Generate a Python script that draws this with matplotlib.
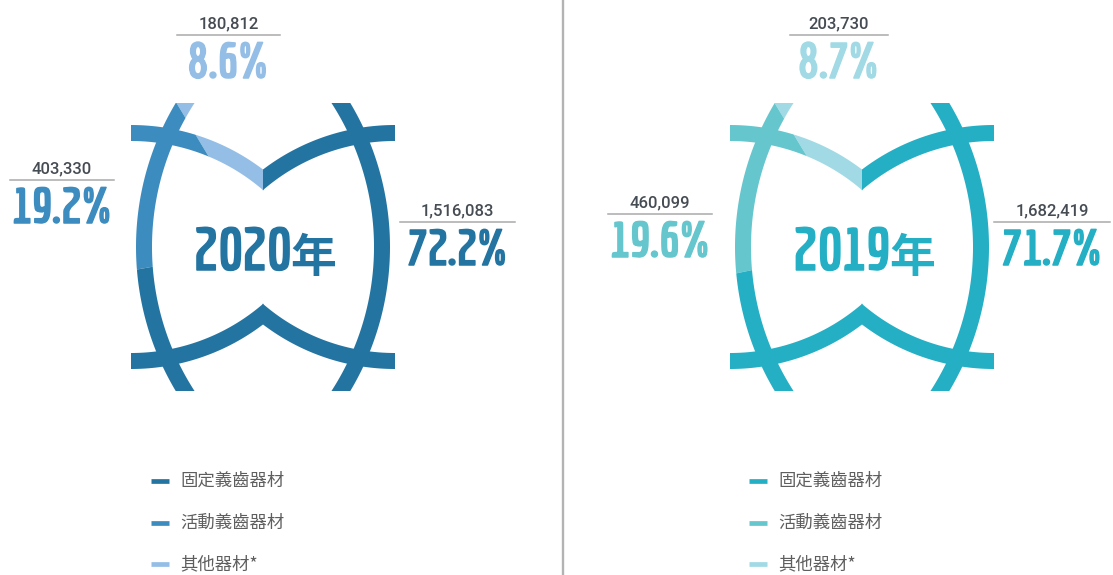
import os
import numpy as np
import matplotlib
matplotlib.use('Agg')
import matplotlib.pyplot as plt
import matplotlib.font_manager as fm
import matplotlib.patheffects as pe
from matplotlib.textpath import TextPath
from matplotlib.patches import Polygon, Wedge

# data
years = ['2020', '2019']
categories = ['固定義齒器材', '活動義齒器材', '其他器材*']
values_2020 = [1516083, 403330, 180812]
values_2019 = [1682419, 460099, 203730]

colors_2020 = ['#2474a2', '#3d8cbf', '#94bee6']
colors_2019 = ['#24afc5', '#66c6cd', '#a1dae5']

W, H = 1113, 575
CJK = 'Noto Sans CJK TC'
PX = 100 / 72  # pixels per point


def size_of(s, prop):
    e = TextPath((0, 0), s, size=100, prop=prop).get_extents()
    return e.width / 100, e.height / 100


# the reference uses a condensed bold face: take the bold file whose proportions
# come closest to it (width of "72.2%" about 2.75x the digit height)
best, best_err = None, None
for f in fm.fontManager.ttflist:
    base = os.path.basename(f.fname).lower()
    if 'bold' not in base or any(t in base for t in ('italic', 'oblique', 'semi', 'extra', 'mono', 'cjk', 'serif')):
        continue
    try:
        prop = fm.FontProperties(fname=f.fname)
        w, _ = size_of('72.2%', prop)
        _, h = size_of('7', prop)
        err = abs(w / h - 2.75)
    except Exception:
        continue
    if best_err is None or err < best_err:
        best, best_err = f.fname, err
NUM = fm.FontProperties(fname=best) if best else fm.FontProperties(family='Roboto', weight='bold')

fig = plt.figure(figsize=(W / 100, H / 100), dpi=100)
ax = fig.add_axes([0, 0, 1, 1])
ax.set_xlim(0, W)
ax.set_ylim(0, H)
ax.axis('off')


def Y(v):
    # picture rows run downwards
    return H - v


def fit(s, cap_px, max_w_px):
    w, _ = size_of(s, NUM)
    _, h = size_of('7', NUM)
    return min(cap_px / (h * PX), max_w_px / (w * PX))


def heavy(c):
    # thicken the condensed digits a little
    return [pe.withStroke(linewidth=1.1, foreground=c)]


def ring_piece(xc, yc, r, t0, t1, w=16, n=240):
    t = np.radians(np.linspace(t0, t1, n))
    outer = np.column_stack([xc + (r + w / 2) * np.cos(t), yc + (r + w / 2) * np.sin(t)])
    t = t[::-1]
    inner = np.column_stack([xc + (r - w / 2) * np.cos(t), yc + (r - w / 2) * np.sin(t)])
    return np.vstack([outer, inner])


def cut(pts, axis, val, keep_greater):
    out = []
    n = len(pts)
    for i in range(n):
        p, q = pts[i], pts[(i + 1) % n]
        pin = p[axis] >= val if keep_greater else p[axis] <= val
        qin = q[axis] >= val if keep_greater else q[axis] <= val
        if pin:
            out.append(p)
        if pin != qin:
            s = (val - p[axis]) / (q[axis] - p[axis])
            out.append(p + s * (q - p))
    return np.array(out)


def shape(cx, cy):
    pieces = [
        (ring_piece(cx + 154, cy, 273, 140, 220), None),
        (ring_piece(cx - 154, cy, 273, -40, 40), None),
        (ring_piece(cx - 132, cy - 96, 210, 40, 100), ('le', cx + 0.4)),
        (ring_piece(cx + 132, cy - 96, 210, 80, 140), ('ge', cx - 0.4)),
        (ring_piece(cx - 132, cy + 96, 210, 260, 320), ('le', cx + 0.4)),
        (ring_piece(cx + 132, cy + 96, 210, 220, 280), ('ge', cx - 0.4)),
    ]
    polys = []
    for pts, half in pieces:
        pts = cut(pts, 0, cx - 132, True)
        pts = cut(pts, 0, cx + 132, False)
        pts = cut(pts, 1, cy - 144, True)
        pts = cut(pts, 1, cy + 144, False)
        if half is not None:
            pts = cut(pts, 0, half[1], half[0] == 'ge')
        polys.append(pts)
    return polys


def panel(cx, cy, year, values, colors, labels):
    total = sum(values)
    shares = [v / total for v in values]
    # wedges start at 12 o'clock, going counter-clockwise: others, removable, fixed
    order = [2, 1, 0]
    start = 90.0
    wedges = {}
    for k in order:
        end = start + 360 * shares[k]
        wedges[k] = Wedge((cx, cy), 420, start, end, transform=ax.transData)
        start = end
    for pts in shape(cx, cy):
        for k in order:
            p = Polygon(pts, closed=True, facecolor=colors[k], edgecolor='none')
            ax.add_patch(p)
            p.set_clip_path(wedges[k])

    # year in the middle: condensed digits + CJK "年"
    ys = fit(year, 42, 98)
    yw = size_of(year, NUM)[0] * ys * PX
    nian_size = 33
    nw = nian_size * PX * 0.92
    gap = 5
    x0 = cx - (yw + gap + nw) / 2
    ax.text(x0, Y(270), year, color=colors[0], fontproperties=NUM, fontsize=ys,
            ha='left', va='baseline', path_effects=heavy(colors[0]))
    ax.text(x0 + yw + gap, Y(272), '年', color=colors[0], family=CJK, fontweight='bold',
            fontsize=nian_size, ha='left', va='baseline')

    for k, (lx, ly, half) in enumerate(labels):
        ax.plot([lx - half, lx + half], [Y(ly), Y(ly)], color='#a9a9a9', lw=1.1)
        ax.text(lx, Y(ly - 7), f'{values[k]:,}', color='#464c53', fontsize=12,
                family='Roboto', fontweight='medium', ha='center', va='baseline')
        s = f'{shares[k] * 100:.1f}%'
        ax.text(lx, Y(ly + 43), s, color=colors[k], fontproperties=NUM,
                fontsize=fit(s, 35, 100), ha='center', va='baseline',
                path_effects=heavy(colors[k]))


def legend(x0, colors):
    for k, name in enumerate(categories):
        yy = Y(481 + 41.5 * k)
        ax.plot([x0, x0 + 18], [yy, yy], color=colors[k], lw=3.4, solid_capstyle='butt')
        ax.text(x0 + 29, yy, name, color='#5e5e5e', fontsize=12.5, family=CJK,
                ha='left', va='center')


panel(263, Y(247), years[0], values_2020, colors_2020,
      [(457.5, 222, 57.5), (62, 180, 52), (228.5, 35, 51.5)])
panel(862, Y(247), years[1], values_2019, colors_2019,
      [(1052, 222, 58), (660, 214, 52), (839, 35, 49)])

legend(151, colors_2020)
legend(749, colors_2019)

ax.plot([563, 563], [0, H], color='#b3b3b3', lw=1.7)

fig.savefig('out.png', dpi=100)
